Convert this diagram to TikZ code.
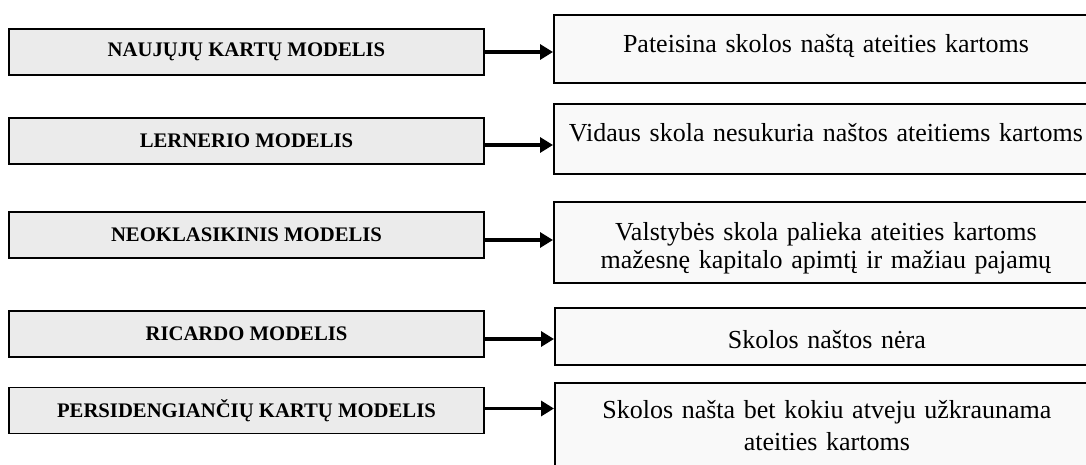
\documentclass[tikz,border=0pt]{standalone}
\usepackage{fontspec}
\setmainfont{Liberation Serif}
\usetikzlibrary{arrows.meta, positioning}

\begin{document}
\begin{tikzpicture}[
    x=1pt, y=-1pt,
    model/.style={draw, line width=1.8pt, fill=gray!16, minimum width=475pt,
                  minimum height=46pt, inner sep=0pt,
                  font=\fontsize{20.7}{24}\selectfont\bfseries},
    result/.style={draw, line width=1.8pt, fill=gray!5, anchor=north west,
                   text width=520pt, align=center, inner xsep=12pt,
                   inner ysep=0pt, text height=38pt, text depth=#1,
                   font=\fontsize{26}{31}\selectfont},
    link/.style={line width=3.2pt, -{Triangle[length=13pt, width=15pt]}}
  ]
  \useasboundingbox (0,0) rectangle (1086,465);
  \clip (0,0) rectangle (1086,465);

  % models on the left
  \node[model] (m1) at (246.5, 52)  {NAUJŲJŲ KARTŲ MODELIS};
  \node[model] (m2) at (246.5, 141) {LERNERIO MODELIS};
  \node[model] (m3) at (246.5, 235) {NEOKLASIKINIS MODELIS};
  \node[model] (m4) at (246.5, 334) {RICARDO MODELIS};
  \node[model] (m5) at (246.5, 410.5) {PERSIDENGIANČIŲ KARTŲ MODELIS};

  % what each model says
  \node[result=30pt] (r1) at (553, 14) {Pateisina skolos naštą ateities kartoms};
  \node[result=32pt] (r2) at (553, 103)
    {Vidaus skola nesukuria naštos ateitiems kartoms};
  \node[result=42pt, text height=39pt, font=\fontsize{26}{28}\selectfont]
    (r3) at (553, 201)
    {Valstybės skola palieka ateities kartoms\\
     mažesnę kapitalo apimtį ir mažiau pajamų};
  \node[result=16pt, text height=41pt] (r4) at (554, 307) {Skolos naštos nėra};
  \node[result=60pt, text height=36pt, font=\fontsize{26}{32}\selectfont]
    (r5) at (554, 382)
    {Skolos našta bet kokiu atveju užkraunama\\ ateities kartoms};

  \foreach \i/\dy in {1/0, 2/4, 3/5, 4/5, 5/-2}
    \draw[link] ([yshift=-\dy pt]m\i.east) coordinate (s\i)
      -- (s\i -| r\i.west);
\end{tikzpicture}
\end{document}
